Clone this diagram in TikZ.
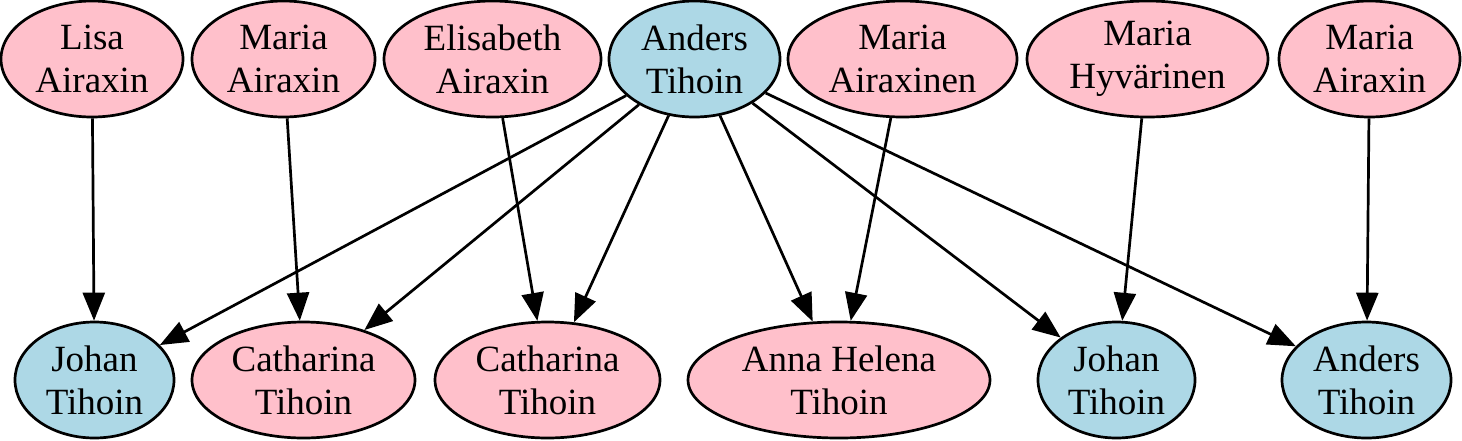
\documentclass[tikz,border=0pt]{standalone}
\usepackage{fontspec}
\setmainfont{Liberation Serif}
\usetikzlibrary{shapes.geometric,arrows.meta}
\definecolor{gvpink}{HTML}{FFC0CB}
\definecolor{gvblue}{HTML}{ADD8E6}
\begin{document}
\begin{tikzpicture}[x=0.5pt,y=-0.5pt,
  person/.style={ellipse,draw=black,line width=1.35pt,inner sep=0pt,
    minimum height=58pt,align=center,
    font=\fontsize{18.5pt}{21.5pt}\selectfont},
  female/.style={person,fill=gvpink},
  male/.style={person,fill=gvblue},
  link/.style={line width=1.35pt,-{Triangle[length=14pt,width=11pt]}}]
\useasboundingbox (0,0) rectangle (1462,440);
% top row
\node[female,minimum width=91pt]   (lisa)  at (92,59)    {Lisa\\Airaxin};
\node[female,minimum width=91.5pt] (maria1) at (283.5,59) {Maria\\Airaxin};
\node[female,minimum width=108.5pt](elis)  at (492.5,59) {Elisabeth\\Airaxin};
\node[male,minimum width=85.5pt]   (anders) at (694.5,59) {Anders\\Tihoin};
\node[female,minimum width=114.5pt](mairx) at (902.5,59) {Maria\\Airaxinen};
\node[female,minimum width=120.5pt](mhyv)  at (1147.5,59) {Maria\\Hyvärinen};
\node[female,minimum width=90.5pt] (maria2) at (1369.5,59) {Maria\\Airaxin};
% bottom row
\node[male,minimum width=79.5pt]   (johan1) at (94.5,380)  {Johan\\Tihoin};
\node[female,minimum width=111.5pt](cath1)  at (303.5,380) {Catharina\\Tihoin};
\node[female,minimum width=112.5pt](cath2)  at (547.5,380) {Catharina\\Tihoin};
\node[female,minimum width=151pt]  (anna)   at (839,380)   {Anna Helena\\Tihoin};
\node[male,minimum width=78.5pt]   (johan2) at (1116.5,380) {Johan\\Tihoin};
\node[male,minimum width=84.5pt]   (anders2) at (1366.5,380) {Anders\\Tihoin};
% edges
\draw[link] (lisa) -- (johan1);
\draw[link] (maria1) -- (cath1);
\draw[link] (elis) -- (cath2);
\draw[link] (anders) -- (johan1);
\draw[link] (anders) -- (cath1);
\draw[link] (anders) -- (cath2);
\draw[link] (anders) -- (anna);
\draw[link] (anders) -- (johan2);
\draw[link] (anders) -- (anders2);
\draw[link] (mairx) -- (anna);
\draw[link] (mhyv) -- (johan2);
\draw[link] (maria2) -- (anders2);
\end{tikzpicture}
\end{document}
